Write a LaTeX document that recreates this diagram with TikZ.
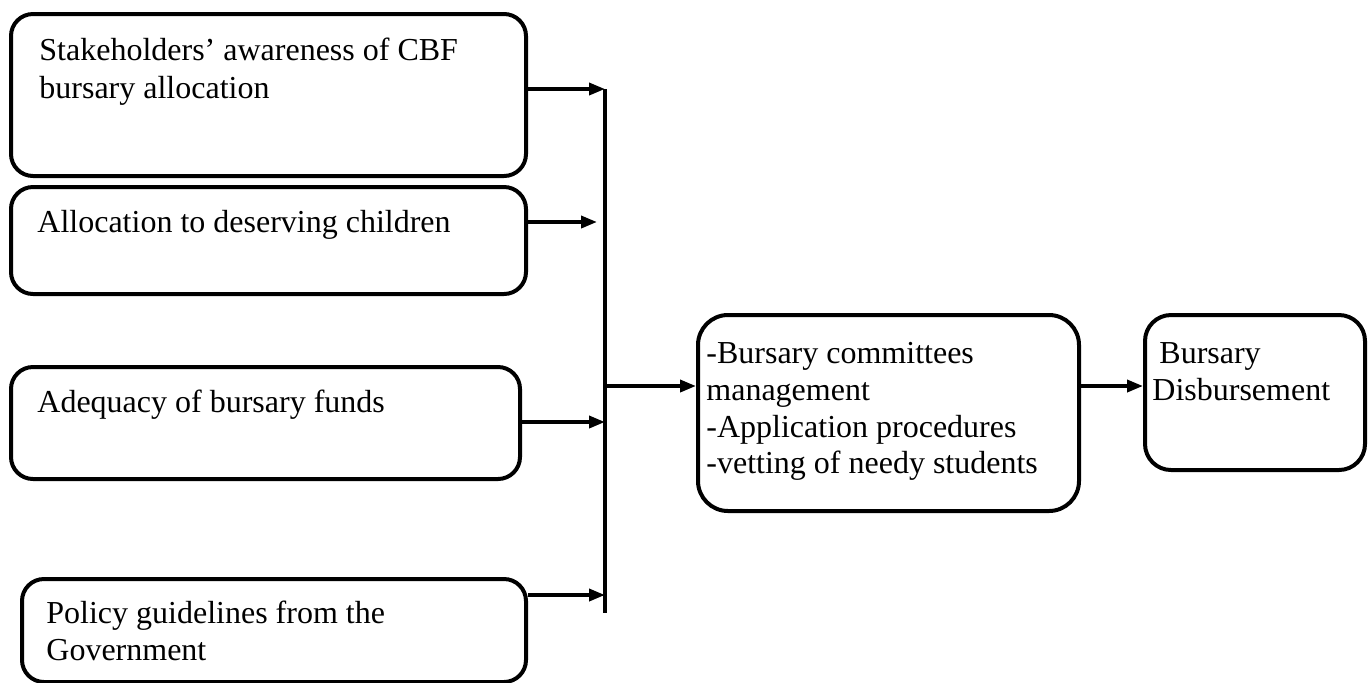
\documentclass[tikz,border=0pt]{standalone}
\usepackage{fontspec}
\setmainfont{Liberation Serif}
\usetikzlibrary{arrows.meta}
\begin{document}
\begin{tikzpicture}[x=0.5pt,y=-0.5pt,
  box/.style={draw, line width=2pt, rounded corners=11pt, inner sep=0pt, anchor=north west},
  txt/.style={anchor=base west, inner sep=0pt, font=\fontsize{16}{18.5}\selectfont},
  arr/.style={line width=1.8pt, -{Triangle[length=8pt,width=6pt]}},
  bar/.style={line width=1.8pt}]
\useasboundingbox (0,0) rectangle (1370,682);
% left boxes
\node[box, minimum width=257.5pt, minimum height=81pt] (b1) at (9,12) {};
\node[box, minimum width=257.5pt, minimum height=53.5pt] (b2) at (9,185) {};
\node[box, minimum width=254.5pt, minimum height=56pt] (b3) at (9,365) {};
\node[box, minimum width=252pt, minimum height=51.5pt] (b4) at (20,577) {};
% middle and right boxes
\node[box, rounded corners=15pt, minimum width=190.5pt, minimum height=98pt] (m) at (696,313) {};
\node[box, rounded corners=13pt, minimum width=110pt, minimum height=77.5pt] (r) at (1143,313) {};
% texts
\node[txt] (t1a) at (39,60) {Stakeholders’ awareness of CBF};
\node[txt] (t1b) at (39,98) {bursary allocation};
\node[txt] (t2) at (37,232) {Allocation to deserving children};
\node[txt] (t3) at (37,412) {Adequacy of bursary funds};
\node[txt] (t4a) at (46,623) {Policy guidelines from the};
\node[txt] (t4b) at (46,660) {Government};
\node[txt] (m1) at (706,363) {-Bursary committees};
\node[txt] (m2) at (706,400) {management};
\node[txt] (m3) at (706,437) {-Application procedures};
\node[txt] (m4) at (706,473) {-vetting of needy students};
\node[txt] (r1) at (1159,363) {Bursary};
\node[txt] (r2) at (1152,400) {Disbursement};
% bus
\coordinate (bt) at (605,89);
\coordinate (bb) at (605,613);
\coordinate (a2) at (597,222);
\coordinate (a3) at (605,422);
\coordinate (a4) at (605,595);
\coordinate (bm) at (605,386);
\draw[bar] (bt) -- (bb);
\draw[arr] (b1.east |- bt) -- (bt);
\draw[arr] (b2.east |- a2) -- (a2);
\draw[arr] ([xshift=-1.5pt]b3.east |- a3) -- (a3);
\draw[arr] (b4.east |- a4) -- (a4);
\draw[arr] (bm) -- (m.west |- bm);
\draw[arr] (m.east |- bm) -- (r.west |- bm);
\end{tikzpicture}
\end{document}
